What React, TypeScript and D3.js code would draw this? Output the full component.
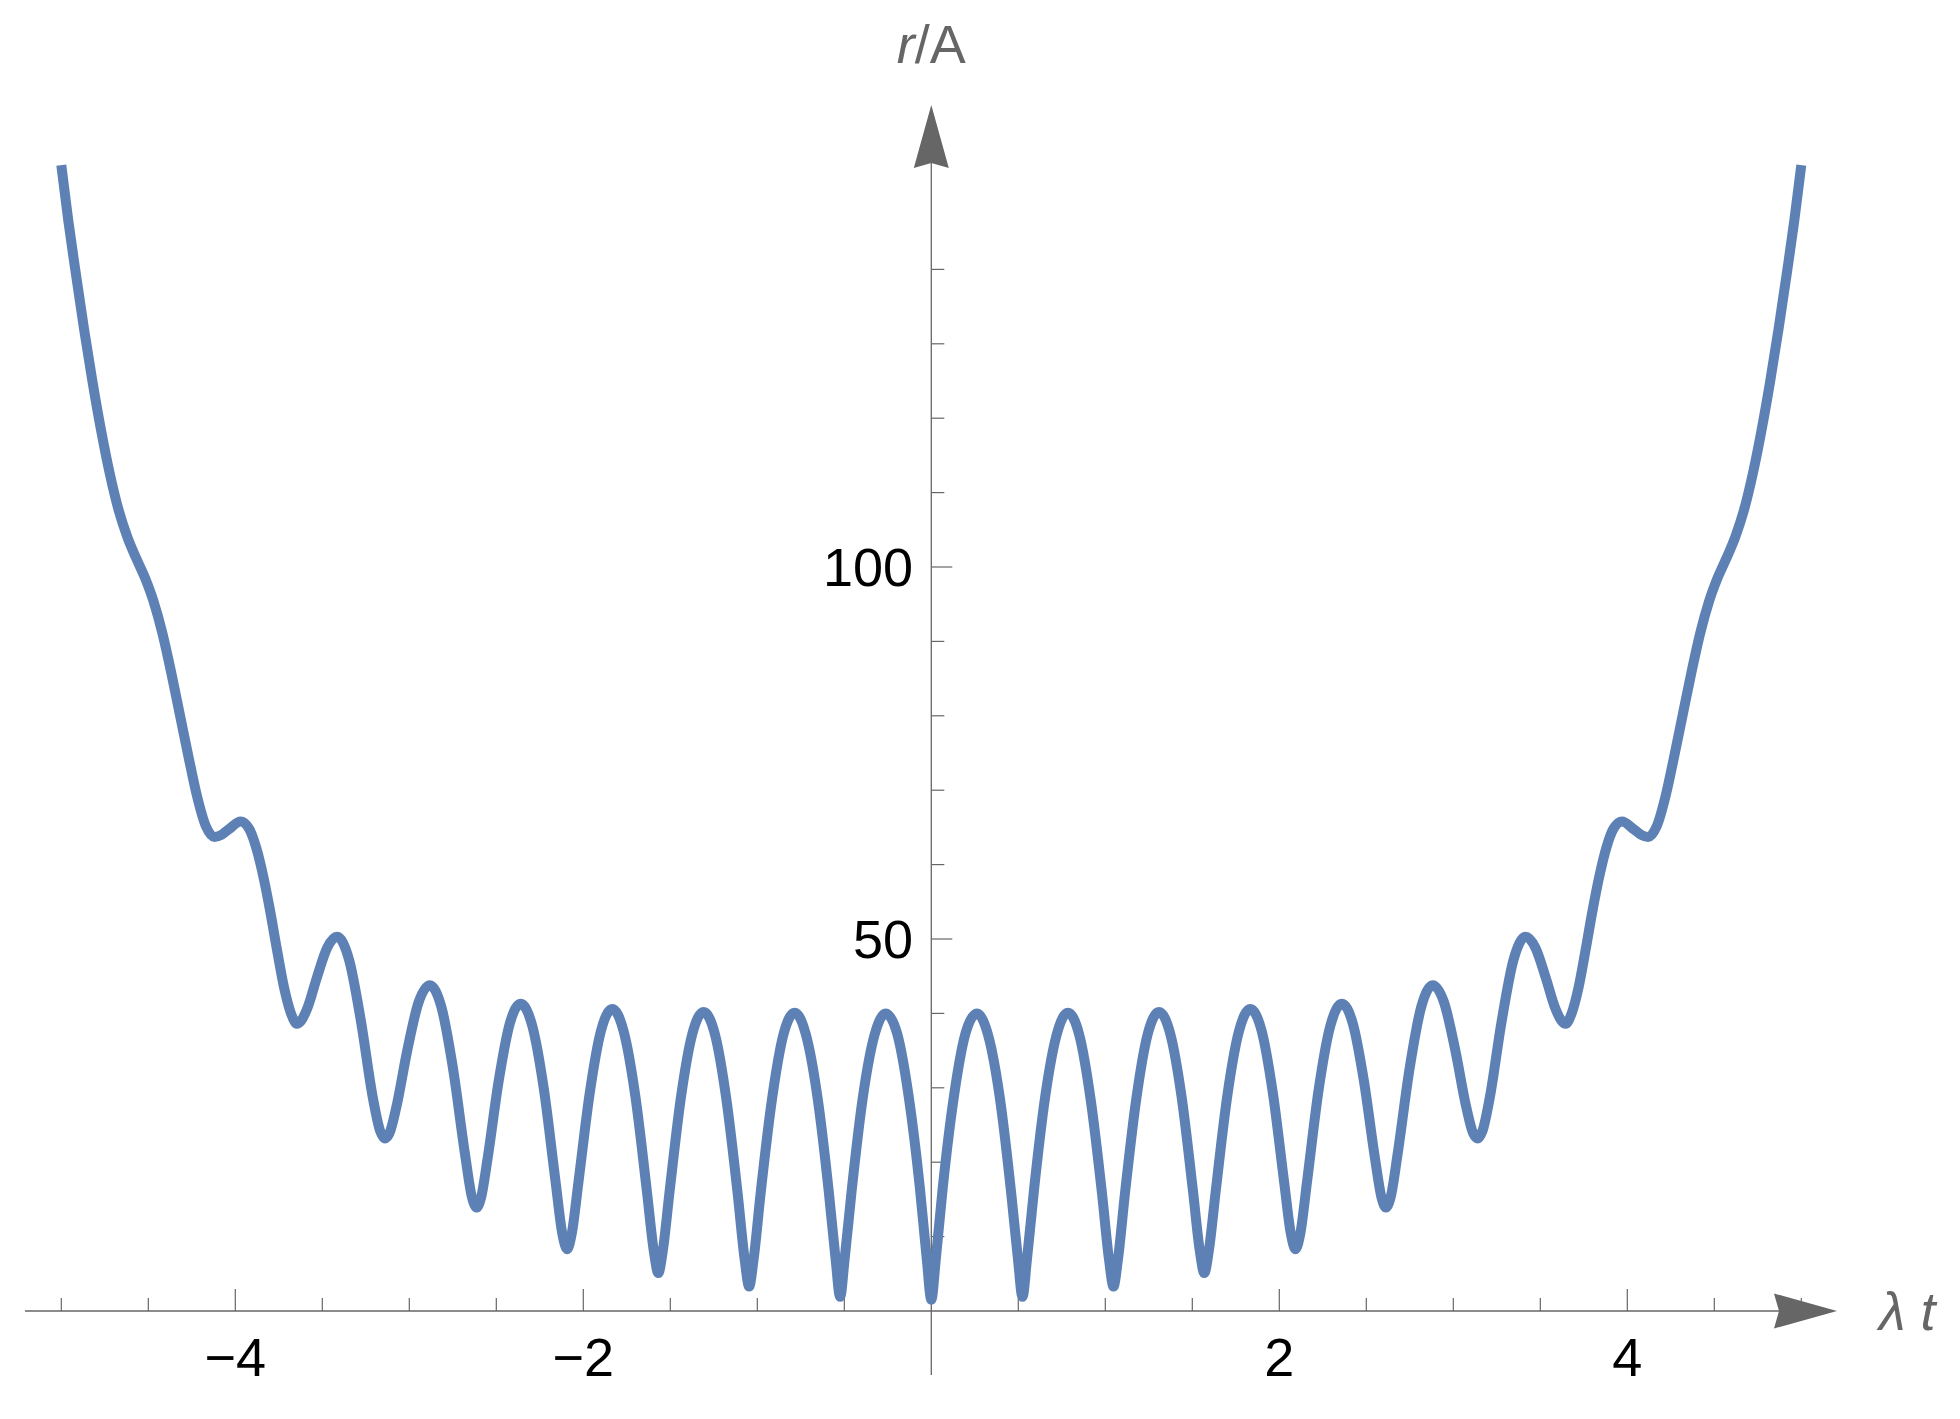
import React from "react";
import * as d3 from "d3";

// λt values (x) and r/A values (y)
const tValues = [
  -5.0, -4.96, -4.92, -4.87, -4.82, -4.77, -4.72, -4.67, -4.62, -4.57, -4.52, -4.47, -4.42, -4.37,
  -4.32, -4.27, -4.22, -4.17, -4.12, -4.08, -4.034, -3.97, -3.92, -3.88, -3.84, -3.8, -3.76, -3.72,
  -3.68, -3.645, -3.622, -3.5875, -3.53, -3.4725, -3.415, -3.346, -3.2775, -3.209, -3.1675, -3.14,
  -3.114, -3.0755, -3.011, -2.9465, -2.882, -2.815, -2.7475, -2.68, -2.64, -2.613, -2.588, -2.55,
  -2.4865, -2.423, -2.36, -2.293, -2.2265, -2.16, -2.12, -2.093, -2.067, -2.028, -1.963, -1.898,
  -1.833, -1.767, -1.701, -1.635, -1.595, -1.569, -1.543, -1.504, -1.439, -1.374, -1.309, -1.2435,
  -1.178, -1.1125, -1.073, -1.047, -1.021, -0.9815, -0.916, -0.8505, -0.785, -0.72, -0.6545, -0.589,
  -0.55, -0.524, -0.498, -0.4585, -0.393, -0.3275, -0.262, -0.1965, -0.131, -0.0655, -0.026,
  0.0,
  0.026, 0.0655, 0.131, 0.1965, 0.262, 0.3275, 0.393, 0.4585, 0.498, 0.524, 0.55, 0.589, 0.6545,
  0.72, 0.785, 0.8505, 0.916, 0.9815, 1.021, 1.047, 1.073, 1.1125, 1.178, 1.2435, 1.309, 1.374,
  1.439, 1.504, 1.543, 1.569, 1.595, 1.635, 1.701, 1.767, 1.833, 1.898, 1.963, 2.028, 2.067, 2.093,
  2.12, 2.16, 2.2265, 2.293, 2.36, 2.423, 2.4865, 2.55, 2.588, 2.613, 2.64, 2.68, 2.7475, 2.815,
  2.882, 2.9465, 3.011, 3.0755, 3.114, 3.14, 3.1675, 3.209, 3.2775, 3.346, 3.415, 3.4725, 3.53,
  3.5875, 3.622, 3.645, 3.68, 3.72, 3.76, 3.8, 3.84, 3.88, 3.92, 3.97, 4.034, 4.08, 4.12,
  4.17, 4.22, 4.27, 4.32, 4.37, 4.42, 4.47, 4.52, 4.57, 4.62, 4.67, 4.72, 4.77, 4.82, 4.87,
  4.92, 4.96, 5.0,
];

const rValues = [
  154.0, 146.6, 140.0, 132.1, 124.8, 118.2, 112.4, 107.6, 104.0, 101.2, 98.6, 95.4, 91.2, 86.0,
  80.3, 74.6, 69.2, 65.2, 63.7, 64.0, 64.8, 65.8, 64.8, 62.3, 58.5, 53.8, 48.5, 43.5,
  40.0, 38.6, 39.0, 40.6, 44.9, 48.8, 50.3, 47.2, 38.9, 28.6, 24.2, 23.2,
  23.9, 27.3, 35.1, 41.5, 43.8, 40.8, 32.4, 21.1, 15.3, 13.9, 15.2, 20.5,
  30.9, 38.6, 41.3, 38.3, 29.8, 17.5, 10.3, 8.3, 10.3, 17.3, 29.3, 37.7,
  40.6, 37.5, 28.9, 16.2, 8.1, 5.1, 8.1, 16.1, 28.7, 37.2, 40.2, 37.2,
  28.5, 15.7, 7.0, 3.3, 7.0, 15.7, 28.4, 37.1, 40.1, 37.1, 28.8, 16.0,
  7.0, 1.9, 7.0, 16.0, 28.8, 37.0, 40.0, 37.3, 29.0, 16.5, 7.0,
  1.5,
  7.0, 16.5, 29.0, 37.3, 40.0, 37.0, 28.8, 16.0, 7.0, 1.9, 7.0, 16.0, 28.8,
  37.1, 40.1, 37.1, 28.4, 15.7, 7.0, 3.3, 7.0, 15.7, 28.5, 37.2, 40.2, 37.2,
  28.7, 16.1, 8.1, 5.1, 8.1, 16.2, 28.9, 37.5, 40.6, 37.7, 29.3, 17.3, 10.3, 8.3,
  10.3, 17.5, 29.8, 38.3, 41.3, 38.6, 30.9, 20.5, 15.2, 13.9, 15.3, 21.1, 32.4, 40.8,
  43.8, 41.5, 35.1, 27.3, 23.9, 23.2, 24.2, 28.6, 38.9, 47.2, 50.3, 48.8, 44.9,
  40.6, 39.0, 38.6, 40.0, 43.5, 48.5, 53.8, 58.5, 62.3, 64.8, 65.8, 64.8, 64.0, 63.7,
  65.2, 69.2, 74.6, 80.3, 86.0, 91.2, 95.4, 98.6, 101.2, 104.0, 107.6, 112.4, 118.2, 124.8, 132.1,
  140.0, 146.6, 154.0,
];

const xMajorTicks = [-4, -2, 2, 4];
const xMajorLabels = ["\u22124", "\u22122", "2", "4"];
const xMinorTicks = [-5, -4.5, -3.5, -3, -2.5, -1.5, -1, -0.5, 0.5, 1, 1.5, 2.5, 3, 3.5, 4.5, 5];
const yMajorTicks = [50, 100];
const yMajorLabels = ["50", "100"];
const yMinorTicks = [10, 20, 30, 40, 60, 70, 80, 90, 110, 120, 130, 140];

const AXIS = "#666666";
const CURVE = "#5E81B5";
const FONT = "'Liberation Sans', Arial, Helvetica, sans-serif";

export default function App() {
  const W = 1960;
  const H = 1419;
  const x = d3.scaleLinear().domain([-5, 5]).range([61.3, 1801.3]);
  const y = d3.scaleLinear().domain([0, 150]).range([1311, 195]);
  const x0 = x(0);
  const y0 = y(0);

  const pts: [number, number][] = tValues.map((t, i) => [t, rValues[i]]);
  const line = d3
    .line<[number, number]>()
    .x((d) => x(d[0]))
    .y((d) => y(d[1]))
    .curve(d3.curveMonotoneX);

  const xArrowTip = 1837;
  const yArrowTip = 105;

  return (
    <svg
      width={W}
      height={H}
      viewBox={`0 0 ${W} ${H}`}
      style={{ position: "absolute", left: 0, top: 0, display: "block", background: "#fff" }}
    >
      {/* x axis */}
      <line x1={25} y1={y0} x2={xArrowTip - 58} y2={y0} stroke={AXIS} strokeWidth={1.3} />
      <path
        d={`M${xArrowTip},${y0} L${xArrowTip - 63},${y0 - 17.5} L${xArrowTip - 58},${y0} L${xArrowTip - 63},${y0 + 17.5} Z`}
        fill={AXIS}
      />
      {/* y axis */}
      <line x1={x0} y1={1375} x2={x0} y2={yArrowTip + 58} stroke={AXIS} strokeWidth={1.3} />
      <path
        d={`M${x0},${yArrowTip} L${x0 - 17.5},${yArrowTip + 63} L${x0},${yArrowTip + 58} L${x0 + 17.5},${yArrowTip + 63} Z`}
        fill={AXIS}
      />

      {/* x ticks */}
      {xMinorTicks.map((t) => (
        <line key={"xm" + t} x1={x(t)} x2={x(t)} y1={y0} y2={y0 - 13} stroke={AXIS} strokeWidth={1.2} />
      ))}
      {xMajorTicks.map((t, i) => (
        <g key={"xM" + t}>
          <line x1={x(t)} x2={x(t)} y1={y0} y2={y0 - 22} stroke={AXIS} strokeWidth={1.2} />
          <text x={x(t)} y={1376} textAnchor="middle" fontFamily={FONT} fontSize={54} fill="#000">
            {xMajorLabels[i]}
          </text>
        </g>
      ))}

      {/* y ticks */}
      {yMinorTicks.map((v) => (
        <line key={"ym" + v} x1={x0} x2={x0 + 13} y1={y(v)} y2={y(v)} stroke={AXIS} strokeWidth={1.2} />
      ))}
      {yMajorTicks.map((v, i) => (
        <g key={"yM" + v}>
          <line x1={x0} x2={x0 + 21} y1={y(v)} y2={y(v)} stroke={AXIS} strokeWidth={1.2} />
          <text x={913} y={y(v) + 19} textAnchor="end" fontFamily={FONT} fontSize={54} fill="#000">
            {yMajorLabels[i]}
          </text>
        </g>
      ))}

      {/* curve */}
      <path
        d={line(pts) || ""}
        fill="none"
        stroke={CURVE}
        strokeWidth={10}
        strokeLinejoin="round"
        strokeLinecap="butt"
      />

      {/* axis labels */}
      <text x={x0} y={63} textAnchor="middle" fontFamily={FONT} fontSize={54} fill={AXIS}>
        <tspan fontStyle="italic">r</tspan>
        <tspan>/A</tspan>
      </text>
      <text x={1879} y={1330} fontFamily={FONT} fontSize={54} fill={AXIS} fontStyle="italic">
        λ t
      </text>
    </svg>
  );
}
